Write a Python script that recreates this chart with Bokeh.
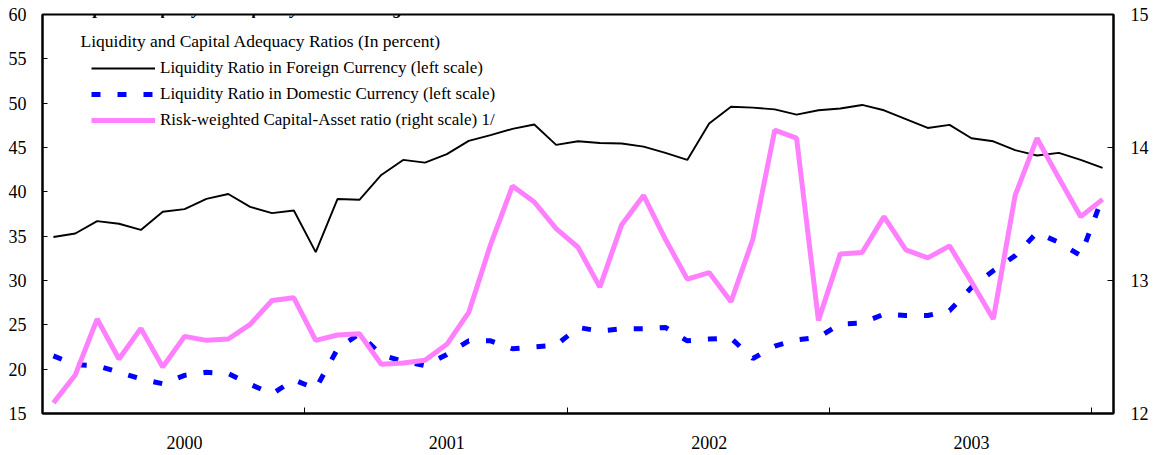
from bokeh.plotting import figure
from bokeh.models import Range1d, LinearAxis, FixedTicker, Legend, LegendItem, Label
from bokeh.embed import file_html
from bokeh.resources import INLINE

FONT = "Liberation Serif"

years = ["2000", "2001", "2002", "2003"]
year_label_pos = [6, 18, 30, 42]
year_boundaries = [11.5, 23.5, 35.5, 47.5]

foreign = [34.9, 35.3, 36.7, 36.4, 35.7, 37.75, 38.05, 39.2, 39.75, 38.3, 37.6, 37.9,
           33.2, 39.2, 39.1, 41.9, 43.6, 43.3, 44.25, 45.75, 46.4, 47.1, 47.6, 45.3,
           45.7, 45.5, 45.45, 45.1, 44.4, 43.6, 47.7, 49.6, 49.5, 49.3, 48.7, 49.2,
           49.4, 49.8, 49.2, 48.2, 47.2, 47.55, 46.05, 45.7, 44.7, 44.1, 44.4, 43.6, 42.7]

domestic = [21.5, 20.5, 20.4, 19.65, 18.9, 18.35, 19.3, 19.65, 19.5, 18.3, 17.2, 18.8,
            17.8, 22.3, 24.0, 21.6, 20.9, 20.4, 21.65, 23.2, 23.2, 22.3, 22.5, 22.7,
            24.7, 24.3, 24.55, 24.55, 24.7, 23.2, 23.4, 23.5, 21.2, 22.6, 23.3, 23.6,
            25.1, 25.2, 26.2, 26.05, 26.05, 26.6, 29.2, 31.1, 32.8, 35.4, 34.3, 32.8, 39.4]

car = [12.08, 12.29, 12.71, 12.41, 12.64, 12.35, 12.58, 12.55, 12.56, 12.67, 12.85, 12.87,
       12.55, 12.59, 12.60, 12.37, 12.38, 12.40, 12.52, 12.76, 13.27, 13.71, 13.59, 13.39,
       13.25, 12.95, 13.42, 13.64, 13.31, 13.01, 13.06, 12.84, 13.31, 14.13, 14.07, 12.70,
       13.20, 13.21, 13.48, 13.23, 13.17, 13.26, 12.99, 12.71, 13.64, 14.07, 13.77, 13.48, 13.61]

idx = list(range(len(foreign)))

left_ticks = [15, 20, 25, 30, 35, 40, 45, 50, 55, 60]
right_ticks = [12, 13, 14, 15]

p = figure(width=1157, height=455, output_backend="svg", toolbar_location=None,
           x_range=Range1d(-0.5, 48.5), y_range=Range1d(15, 60),
           x_axis_type=None, y_axis_type=None,
           min_border_left=42, min_border_right=44, min_border_top=14, min_border_bottom=42)
p.extra_y_ranges = {"right": Range1d(12, 15)}
p.outline_line_color = "black"
p.outline_line_width = 2
p.background_fill_color = "white"
p.border_fill_color = "white"

# bottom axis
xa = LinearAxis(ticker=FixedTicker(ticks=year_label_pos, minor_ticks=year_boundaries),
                major_label_overrides={k: v for k, v in zip(year_label_pos, years)})
xa.major_tick_in = 0
xa.major_tick_out = 0
xa.minor_tick_in = 6
xa.minor_tick_out = 0
xa.minor_tick_line_color = "black"
xa.axis_line_color = "black"
xa.axis_line_width = 2
xa.major_label_standoff = 22
xa.major_label_text_font = FONT
xa.major_label_text_font_size = "18px"
xa.major_label_text_color = "black"
p.add_layout(xa, "below")

# left axis
ya = LinearAxis(ticker=FixedTicker(ticks=left_ticks, minor_ticks=[]))
ya.major_tick_in = 5
ya.major_tick_out = 0
ya.axis_line_width = 2
ya.major_label_standoff = 16
ya.major_label_text_font = FONT
ya.major_label_text_font_size = "18px"
ya.major_label_text_color = "black"
p.add_layout(ya, "left")

# right axis
yr = LinearAxis(y_range_name="right", ticker=FixedTicker(ticks=right_ticks, minor_ticks=[]))
yr.major_tick_in = 6
yr.major_tick_out = 0
yr.axis_line_width = 2
yr.major_label_standoff = 17
yr.major_label_text_font = FONT
yr.major_label_text_font_size = "18px"
yr.major_label_text_color = "black"
p.add_layout(yr, "right")

r_for = p.line(idx, foreign, line_color="black", line_width=1.9)
r_dom = p.line(idx, domestic, line_color="#0000FF", line_width=5, line_dash="9 17")
r_car = p.line(idx, car, line_color="#FF80FF", line_width=5, y_range_name="right")

legend = Legend(items=[
    LegendItem(label="Liquidity Ratio in Foreign Currency (left scale)", renderers=[r_for]),
    LegendItem(label="Liquidity Ratio in Domestic Currency (left scale)", renderers=[r_dom]),
    LegendItem(label="Risk-weighted Capital-Asset ratio (right scale) 1/", renderers=[r_car]),
], location=(49, 283))
legend.border_line_color = None
legend.background_fill_alpha = 0
legend.padding = 0
legend.margin = 0
legend.spacing = 6
legend.glyph_width = 64
legend.glyph_height = 20
legend.label_height = 20
legend.label_standoff = 5
legend.label_text_font = FONT
legend.label_text_font_size = "17px"
legend.label_text_color = "black"
p.add_layout(legend, "center")

p.add_layout(Label(x=38, y=373, x_units="screen", y_units="screen",
                   text="Liquidity and Capital Adequacy Ratios (In percent)",
                   text_font=FONT, text_font_size="17.5px", text_baseline="middle",
                   text_color="black"))

p.add_layout(Label(x=30, y=406, x_units="screen", y_units="screen",
                   text="Capital adequacy and liquidity ratios are high.",
                   text_font=FONT, text_font_size="18px", text_font_style="bold italic",
                   text_baseline="alphabetic", text_color="black"))

open("out.html", "w").write(file_html(p, INLINE))
